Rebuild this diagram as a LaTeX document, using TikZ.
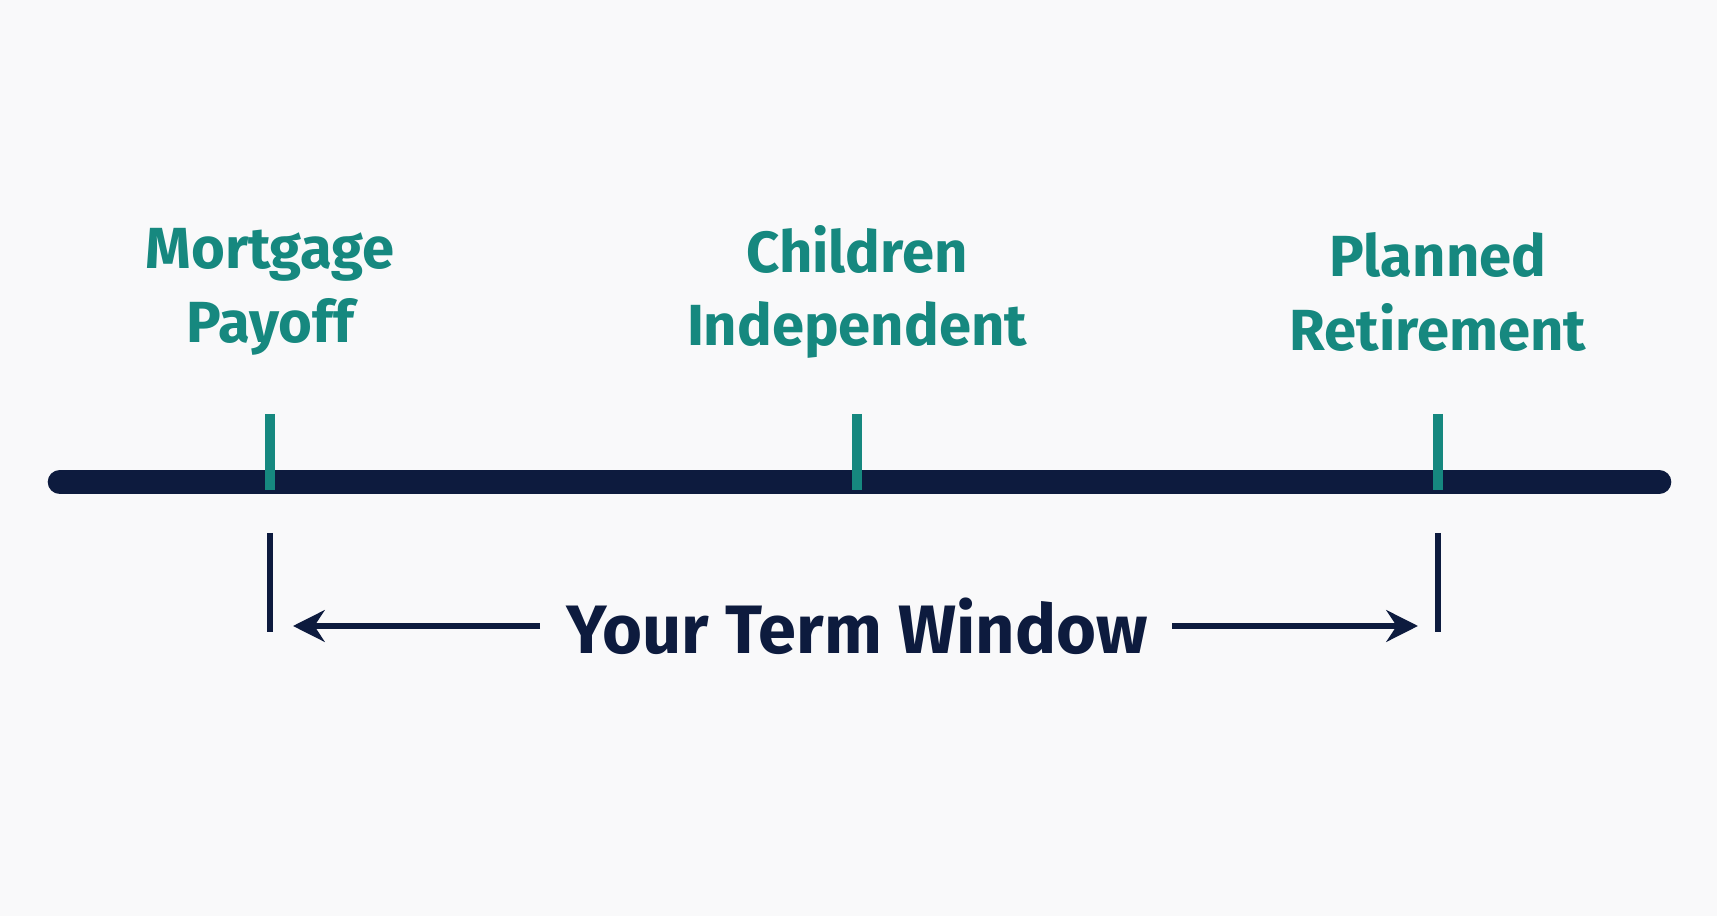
\documentclass[tikz,border=0pt]{standalone}
\usepackage{fontspec}
\setmainfont{Fira Sans}
\usetikzlibrary{positioning}
\usetikzlibrary{arrows.meta}
\definecolor{navy}{HTML}{0D1B3E}
\definecolor{teal}{HTML}{16887F}
\definecolor{paper}{HTML}{F9F9FA}

\begin{document}
\begin{tikzpicture}

\tikzstyle{milestone}=[text=teal, font=\fontsize{16.5}{21}\selectfont\bfseries, align=center]
\tikzstyle{tick}=[draw=teal, line width=2.6pt]
\tikzstyle{bracket}=[draw=navy, line width=1.6pt]
\tikzstyle{span}=[draw=navy, line width=1.8pt, -{Stealth[length=9pt,width=9pt]}]

\useasboundingbox[fill=paper] (0,0) rectangle (17.17,-9.16);

% timeline
\coordinate (tl) at (0.6,-4.82);
\coordinate (tr) at (16.59,-4.82);
\draw[navy, line width=7pt, line cap=round] (tl) -- (tr);

% milestones
\node[milestone] (mort) at (2.7,-2.92) {Mortgage\\Payoff};
\node[milestone] (kids) at (8.57,-2.92) {Children\\Independent};
\node[milestone] (ret) at (14.38,-2.92) {Planned\\Retirement};

\coordinate (m1) at (2.7,-4.14);
\coordinate (m2) at (8.57,-4.14);
\coordinate (m3) at (14.38,-4.14);
\draw[tick] (m1) -- ++(0,-0.76);
\draw[tick] (m2) -- ++(0,-0.76);
\draw[tick] (m3) -- ++(0,-0.76);

% term window
\coordinate (b1) at (2.7,-5.33);
\coordinate (b2) at (14.38,-5.33);
\draw[bracket] (b1) -- ++(0,-0.99);
\draw[bracket] (b2) -- ++(0,-0.99);

\node[text=navy, font=\fontsize{19.5}{24}\selectfont\bfseries] (win) at (8.57,-6.26) {Your Term Window};
\coordinate (a1) at (2.93,-6.26);
\coordinate (a2) at (14.18,-6.26);
\coordinate (s1) at (5.4,-6.26);
\coordinate (s2) at (11.72,-6.26);
\draw[span] (s1) -- (a1);
\draw[span] (s2) -- (a2);

\end{tikzpicture}
\end{document}
